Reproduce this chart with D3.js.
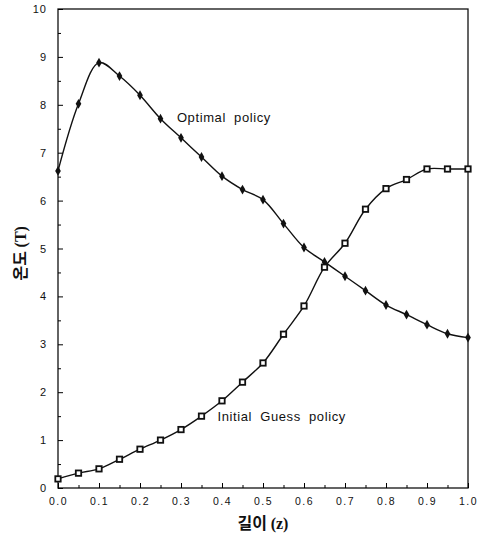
<!DOCTYPE html>
<html>
<head>
<meta charset="utf-8">
<script src="https://cdn.jsdelivr.net/npm/d3@7"></script>
<style>
  body { margin: 0; background: #fff; }
  svg { display: block; }
  .tick text { font-family: "Liberation Sans", Arial, sans-serif; fill: #111; }
</style>
</head>
<body>
<svg id="chart"></svg>
<script>
const size = { w: 477, h: 535 };
const margin = { t: 9, r: 9, b: 47, l: 58 };

// z positions (길이)
const zValues = [0, 0.05, 0.1, 0.15, 0.2, 0.25, 0.3, 0.35, 0.4, 0.45, 0.5,
	0.55, 0.6, 0.65, 0.7, 0.75, 0.8, 0.85, 0.9, 0.95, 1.0];
// temperature (온도) along z
const optimal = [6.62, 8.02, 8.88, 8.6, 8.2, 7.71, 7.31, 6.91, 6.51, 6.23, 6.02,
	5.52, 5.02, 4.72, 4.42, 4.12, 3.82, 3.62, 3.41, 3.22, 3.14];
const initialGuess = [0.19, 0.31, 0.4, 0.6, 0.81, 1.0, 1.22, 1.5, 1.82, 2.21, 2.61,
	3.21, 3.8, 4.61, 5.11, 5.82, 6.25, 6.44, 6.66, 6.66, 6.66];
const xTicks = [0, 0.1, 0.2, 0.3, 0.4, 0.5, 0.6, 0.7, 0.8, 0.9, 1.0];
const yTicks = [0, 1, 2, 3, 4, 5, 6, 7, 8, 9, 10];

const svg = d3.select("svg#chart").attr("width", size.w).attr("height", size.h);
const innerW = size.w - margin.l - margin.r;
const innerH = size.h - margin.t - margin.b;

const g = svg.append("g").attr("transform", `translate(${margin.l}, ${margin.t})`);

const x = d3.scaleLinear().domain([0, 1]).range([0, innerW]);
const y = d3.scaleLinear().domain([0, 10]).range([innerH, 0]);

// frame
g.append("rect")
	.attr("width", innerW)
	.attr("height", innerH)
	.attr("fill", "none")
	.attr("stroke", "#111")
	.attr("stroke-width", 1.3);

// minor ticks (inward)
g.append("g")
	.attr("transform", `translate(0, ${innerH})`)
	.call(d3.axisTop(x).tickValues(d3.range(0.05, 1, 0.1)).tickSize(3).tickFormat(""))
	.call((a) => a.select(".domain").remove());
g.append("g")
	.call(d3.axisRight(y).tickValues(d3.range(0.5, 10, 1)).tickSize(3).tickFormat(""))
	.call((a) => a.select(".domain").remove());

// major ticks: inward tick marks, labels outside
const xAxis = g.append("g")
	.attr("transform", `translate(0, ${innerH})`)
	.call(d3.axisBottom(x).tickValues(xTicks).tickSize(-5).tickPadding(10).tickFormat(d3.format(".1f")));
xAxis.select(".domain").remove();
xAxis.selectAll("text").attr("font-size", 10.5).attr("letter-spacing", "1.5px");

const yAxis = g.append("g")
	.call(d3.axisLeft(y).tickValues(yTicks).tickSize(-5).tickPadding(11).tickFormat(d3.format("d")));
yAxis.select(".domain").remove();
yAxis.selectAll("text").attr("font-size", 11).attr("letter-spacing", "1px");

const line = d3.line()
	.x((d) => x(d[0]))
	.y((d) => y(d[1]))
	.curve(d3.curveCatmullRom.alpha(0.5));

const optPts = zValues.map((z, i) => [z, optimal[i]]);
const initPts = zValues.map((z, i) => [z, initialGuess[i]]);

g.append("path")
	.attr("d", line(optPts))
	.attr("fill", "none")
	.attr("stroke", "#111")
	.attr("stroke-width", 1.4);
g.append("path")
	.attr("d", line(initPts))
	.attr("fill", "none")
	.attr("stroke", "#111")
	.attr("stroke-width", 1.4);

// optimal policy markers: filled dots
g.append("g")
	.selectAll("path")
	.data(optPts)
	.join("path")
	.attr("transform", (d) => `translate(${x(d[0])}, ${y(d[1])})`)
	.attr("d", d3.symbol(d3.symbolDiamond, 28))
	.attr("fill", "#111");

// initial guess markers: open squares
g.append("g")
	.selectAll("rect")
	.data(initPts)
	.join("rect")
	.attr("x", (d) => x(d[0]) - 2.7)
	.attr("y", (d) => y(d[1]) - 2.7)
	.attr("width", 5.4)
	.attr("height", 5.4)
	.attr("fill", "#fff")
	.attr("stroke", "#111")
	.attr("stroke-width", 1.8);

// curve labels
g.append("text")
	.attr("x", x(0.29))
	.attr("y", y(7.65))
	.attr("font-family", "'Liberation Sans', Arial, sans-serif")
	.attr("font-size", 13)
	.attr("letter-spacing", "0.6px")
	.attr("word-spacing", "4px")
	.attr("fill", "#111")
	.text("Optimal policy");
g.append("text")
	.attr("x", x(0.389))
	.attr("y", y(1.4))
	.attr("font-family", "'Liberation Sans', Arial, sans-serif")
	.attr("font-size", 13)
	.attr("letter-spacing", "0.6px")
	.attr("word-spacing", "4px")
	.attr("fill", "#111")
	.text("Initial Guess policy");

// axis titles
const xt = svg.append("text")
	.attr("x", margin.l + x(0.5))
	.attr("y", 529)
	.attr("text-anchor", "middle")
	.attr("font-weight", "bold")
	.attr("fill", "#111");
xt.append("tspan").attr("font-family", "'Noto Sans CJK KR', sans-serif").attr("font-size", 16).text("길이 ");
xt.append("tspan").attr("font-family", "'Liberation Serif', serif").attr("font-size", 16).text("(z)");

const yt = svg.append("text")
	.attr("transform", `translate(26, ${margin.t + y(4.9)}) rotate(-90)`)
	.attr("text-anchor", "middle")
	.attr("font-weight", "bold")
	.attr("fill", "#111");
yt.append("tspan").attr("font-family", "'Noto Sans CJK KR', sans-serif").attr("font-size", 16).text("온도 ");
yt.append("tspan").attr("font-family", "'Liberation Serif', serif").attr("font-size", 16).text("(T)");
</script>
</body>
</html>
